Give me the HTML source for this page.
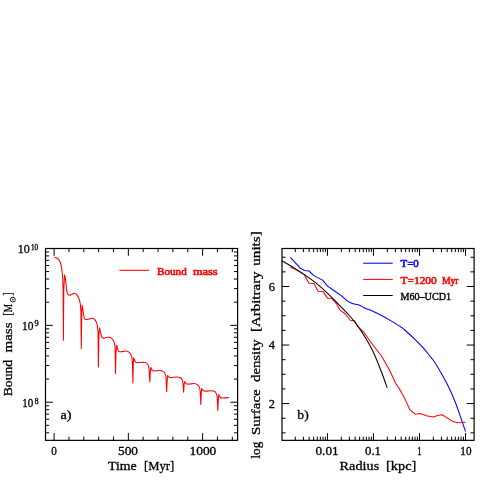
<!DOCTYPE html>
<html><head><meta charset="utf-8"><title>plot</title>
<style>
html,body{margin:0;padding:0;background:#fff;}
body{width:485px;height:485px;overflow:hidden;}
svg{display:block;font-family:"Liberation Serif",serif;will-change:transform;transform:translateZ(0);}
</style></head><body>
<svg width="485" height="485" viewBox="0 0 485 485">
<rect width="485" height="485" fill="#fff"/>
<line x1="54.1" y1="440.35" x2="54.1" y2="433.05" stroke="#000" stroke-width="1.0"/>
<line x1="54.1" y1="248.5" x2="54.1" y2="255.8" stroke="#000" stroke-width="1.0"/>
<line x1="68.95" y1="440.35" x2="68.95" y2="436.7" stroke="#000" stroke-width="1.0"/>
<line x1="68.95" y1="248.5" x2="68.95" y2="252.15" stroke="#000" stroke-width="1.0"/>
<line x1="83.8" y1="440.35" x2="83.8" y2="436.7" stroke="#000" stroke-width="1.0"/>
<line x1="83.8" y1="248.5" x2="83.8" y2="252.15" stroke="#000" stroke-width="1.0"/>
<line x1="98.65" y1="440.35" x2="98.65" y2="436.7" stroke="#000" stroke-width="1.0"/>
<line x1="98.65" y1="248.5" x2="98.65" y2="252.15" stroke="#000" stroke-width="1.0"/>
<line x1="113.5" y1="440.35" x2="113.5" y2="436.7" stroke="#000" stroke-width="1.0"/>
<line x1="113.5" y1="248.5" x2="113.5" y2="252.15" stroke="#000" stroke-width="1.0"/>
<line x1="128.35" y1="440.35" x2="128.35" y2="433.05" stroke="#000" stroke-width="1.0"/>
<line x1="128.35" y1="248.5" x2="128.35" y2="255.8" stroke="#000" stroke-width="1.0"/>
<line x1="143.2" y1="440.35" x2="143.2" y2="436.7" stroke="#000" stroke-width="1.0"/>
<line x1="143.2" y1="248.5" x2="143.2" y2="252.15" stroke="#000" stroke-width="1.0"/>
<line x1="158.05" y1="440.35" x2="158.05" y2="436.7" stroke="#000" stroke-width="1.0"/>
<line x1="158.05" y1="248.5" x2="158.05" y2="252.15" stroke="#000" stroke-width="1.0"/>
<line x1="172.9" y1="440.35" x2="172.9" y2="436.7" stroke="#000" stroke-width="1.0"/>
<line x1="172.9" y1="248.5" x2="172.9" y2="252.15" stroke="#000" stroke-width="1.0"/>
<line x1="187.75" y1="440.35" x2="187.75" y2="436.7" stroke="#000" stroke-width="1.0"/>
<line x1="187.75" y1="248.5" x2="187.75" y2="252.15" stroke="#000" stroke-width="1.0"/>
<line x1="202.6" y1="440.35" x2="202.6" y2="433.05" stroke="#000" stroke-width="1.0"/>
<line x1="202.6" y1="248.5" x2="202.6" y2="255.8" stroke="#000" stroke-width="1.0"/>
<line x1="217.45" y1="440.35" x2="217.45" y2="436.7" stroke="#000" stroke-width="1.0"/>
<line x1="217.45" y1="248.5" x2="217.45" y2="252.15" stroke="#000" stroke-width="1.0"/>
<line x1="232.3" y1="440.35" x2="232.3" y2="436.7" stroke="#000" stroke-width="1.0"/>
<line x1="232.3" y1="248.5" x2="232.3" y2="252.15" stroke="#000" stroke-width="1.0"/>
<line x1="45.5" y1="432.8" x2="49.15" y2="432.8" stroke="#000" stroke-width="1.0"/>
<line x1="237.6" y1="432.8" x2="233.95" y2="432.8" stroke="#000" stroke-width="1.0"/>
<line x1="45.5" y1="425.35" x2="49.15" y2="425.35" stroke="#000" stroke-width="1.0"/>
<line x1="237.6" y1="425.35" x2="233.95" y2="425.35" stroke="#000" stroke-width="1.0"/>
<line x1="45.5" y1="419.27" x2="49.15" y2="419.27" stroke="#000" stroke-width="1.0"/>
<line x1="237.6" y1="419.27" x2="233.95" y2="419.27" stroke="#000" stroke-width="1.0"/>
<line x1="45.5" y1="414.12" x2="49.15" y2="414.12" stroke="#000" stroke-width="1.0"/>
<line x1="237.6" y1="414.12" x2="233.95" y2="414.12" stroke="#000" stroke-width="1.0"/>
<line x1="45.5" y1="409.66" x2="49.15" y2="409.66" stroke="#000" stroke-width="1.0"/>
<line x1="237.6" y1="409.66" x2="233.95" y2="409.66" stroke="#000" stroke-width="1.0"/>
<line x1="45.5" y1="405.73" x2="49.15" y2="405.73" stroke="#000" stroke-width="1.0"/>
<line x1="237.6" y1="405.73" x2="233.95" y2="405.73" stroke="#000" stroke-width="1.0"/>
<line x1="45.5" y1="402.21" x2="52.8" y2="402.21" stroke="#000" stroke-width="1.0"/>
<line x1="237.6" y1="402.21" x2="230.3" y2="402.21" stroke="#000" stroke-width="1.0"/>
<line x1="45.5" y1="379.07" x2="49.15" y2="379.07" stroke="#000" stroke-width="1.0"/>
<line x1="237.6" y1="379.07" x2="233.95" y2="379.07" stroke="#000" stroke-width="1.0"/>
<line x1="45.5" y1="365.53" x2="49.15" y2="365.53" stroke="#000" stroke-width="1.0"/>
<line x1="237.6" y1="365.53" x2="233.95" y2="365.53" stroke="#000" stroke-width="1.0"/>
<line x1="45.5" y1="355.92" x2="49.15" y2="355.92" stroke="#000" stroke-width="1.0"/>
<line x1="237.6" y1="355.92" x2="233.95" y2="355.92" stroke="#000" stroke-width="1.0"/>
<line x1="45.5" y1="348.47" x2="49.15" y2="348.47" stroke="#000" stroke-width="1.0"/>
<line x1="237.6" y1="348.47" x2="233.95" y2="348.47" stroke="#000" stroke-width="1.0"/>
<line x1="45.5" y1="342.39" x2="49.15" y2="342.39" stroke="#000" stroke-width="1.0"/>
<line x1="237.6" y1="342.39" x2="233.95" y2="342.39" stroke="#000" stroke-width="1.0"/>
<line x1="45.5" y1="337.24" x2="49.15" y2="337.24" stroke="#000" stroke-width="1.0"/>
<line x1="237.6" y1="337.24" x2="233.95" y2="337.24" stroke="#000" stroke-width="1.0"/>
<line x1="45.5" y1="332.78" x2="49.15" y2="332.78" stroke="#000" stroke-width="1.0"/>
<line x1="237.6" y1="332.78" x2="233.95" y2="332.78" stroke="#000" stroke-width="1.0"/>
<line x1="45.5" y1="328.85" x2="49.15" y2="328.85" stroke="#000" stroke-width="1.0"/>
<line x1="237.6" y1="328.85" x2="233.95" y2="328.85" stroke="#000" stroke-width="1.0"/>
<line x1="45.5" y1="325.33" x2="52.8" y2="325.33" stroke="#000" stroke-width="1.0"/>
<line x1="237.6" y1="325.33" x2="230.3" y2="325.33" stroke="#000" stroke-width="1.0"/>
<line x1="45.5" y1="302.19" x2="49.15" y2="302.19" stroke="#000" stroke-width="1.0"/>
<line x1="237.6" y1="302.19" x2="233.95" y2="302.19" stroke="#000" stroke-width="1.0"/>
<line x1="45.5" y1="288.65" x2="49.15" y2="288.65" stroke="#000" stroke-width="1.0"/>
<line x1="237.6" y1="288.65" x2="233.95" y2="288.65" stroke="#000" stroke-width="1.0"/>
<line x1="45.5" y1="279.04" x2="49.15" y2="279.04" stroke="#000" stroke-width="1.0"/>
<line x1="237.6" y1="279.04" x2="233.95" y2="279.04" stroke="#000" stroke-width="1.0"/>
<line x1="45.5" y1="271.59" x2="49.15" y2="271.59" stroke="#000" stroke-width="1.0"/>
<line x1="237.6" y1="271.59" x2="233.95" y2="271.59" stroke="#000" stroke-width="1.0"/>
<line x1="45.5" y1="265.51" x2="49.15" y2="265.51" stroke="#000" stroke-width="1.0"/>
<line x1="237.6" y1="265.51" x2="233.95" y2="265.51" stroke="#000" stroke-width="1.0"/>
<line x1="45.5" y1="260.36" x2="49.15" y2="260.36" stroke="#000" stroke-width="1.0"/>
<line x1="237.6" y1="260.36" x2="233.95" y2="260.36" stroke="#000" stroke-width="1.0"/>
<line x1="45.5" y1="255.9" x2="49.15" y2="255.9" stroke="#000" stroke-width="1.0"/>
<line x1="237.6" y1="255.9" x2="233.95" y2="255.9" stroke="#000" stroke-width="1.0"/>
<line x1="45.5" y1="251.97" x2="49.15" y2="251.97" stroke="#000" stroke-width="1.0"/>
<line x1="237.6" y1="251.97" x2="233.95" y2="251.97" stroke="#000" stroke-width="1.0"/>
<line x1="295.29" y1="440.35" x2="295.29" y2="436.7" stroke="#000" stroke-width="1.0"/>
<line x1="295.29" y1="248.5" x2="295.29" y2="252.15" stroke="#000" stroke-width="1.0"/>
<line x1="303.4" y1="440.35" x2="303.4" y2="436.7" stroke="#000" stroke-width="1.0"/>
<line x1="303.4" y1="248.5" x2="303.4" y2="252.15" stroke="#000" stroke-width="1.0"/>
<line x1="309.15" y1="440.35" x2="309.15" y2="436.7" stroke="#000" stroke-width="1.0"/>
<line x1="309.15" y1="248.5" x2="309.15" y2="252.15" stroke="#000" stroke-width="1.0"/>
<line x1="313.61" y1="440.35" x2="313.61" y2="436.7" stroke="#000" stroke-width="1.0"/>
<line x1="313.61" y1="248.5" x2="313.61" y2="252.15" stroke="#000" stroke-width="1.0"/>
<line x1="317.25" y1="440.35" x2="317.25" y2="436.7" stroke="#000" stroke-width="1.0"/>
<line x1="317.25" y1="248.5" x2="317.25" y2="252.15" stroke="#000" stroke-width="1.0"/>
<line x1="320.33" y1="440.35" x2="320.33" y2="436.7" stroke="#000" stroke-width="1.0"/>
<line x1="320.33" y1="248.5" x2="320.33" y2="252.15" stroke="#000" stroke-width="1.0"/>
<line x1="323" y1="440.35" x2="323" y2="436.7" stroke="#000" stroke-width="1.0"/>
<line x1="323" y1="248.5" x2="323" y2="252.15" stroke="#000" stroke-width="1.0"/>
<line x1="325.35" y1="440.35" x2="325.35" y2="436.7" stroke="#000" stroke-width="1.0"/>
<line x1="325.35" y1="248.5" x2="325.35" y2="252.15" stroke="#000" stroke-width="1.0"/>
<line x1="327.46" y1="440.35" x2="327.46" y2="433.05" stroke="#000" stroke-width="1.0"/>
<line x1="327.46" y1="248.5" x2="327.46" y2="255.8" stroke="#000" stroke-width="1.0"/>
<line x1="341.31" y1="440.35" x2="341.31" y2="436.7" stroke="#000" stroke-width="1.0"/>
<line x1="341.31" y1="248.5" x2="341.31" y2="252.15" stroke="#000" stroke-width="1.0"/>
<line x1="349.42" y1="440.35" x2="349.42" y2="436.7" stroke="#000" stroke-width="1.0"/>
<line x1="349.42" y1="248.5" x2="349.42" y2="252.15" stroke="#000" stroke-width="1.0"/>
<line x1="355.17" y1="440.35" x2="355.17" y2="436.7" stroke="#000" stroke-width="1.0"/>
<line x1="355.17" y1="248.5" x2="355.17" y2="252.15" stroke="#000" stroke-width="1.0"/>
<line x1="359.63" y1="440.35" x2="359.63" y2="436.7" stroke="#000" stroke-width="1.0"/>
<line x1="359.63" y1="248.5" x2="359.63" y2="252.15" stroke="#000" stroke-width="1.0"/>
<line x1="363.27" y1="440.35" x2="363.27" y2="436.7" stroke="#000" stroke-width="1.0"/>
<line x1="363.27" y1="248.5" x2="363.27" y2="252.15" stroke="#000" stroke-width="1.0"/>
<line x1="366.35" y1="440.35" x2="366.35" y2="436.7" stroke="#000" stroke-width="1.0"/>
<line x1="366.35" y1="248.5" x2="366.35" y2="252.15" stroke="#000" stroke-width="1.0"/>
<line x1="369.02" y1="440.35" x2="369.02" y2="436.7" stroke="#000" stroke-width="1.0"/>
<line x1="369.02" y1="248.5" x2="369.02" y2="252.15" stroke="#000" stroke-width="1.0"/>
<line x1="371.37" y1="440.35" x2="371.37" y2="436.7" stroke="#000" stroke-width="1.0"/>
<line x1="371.37" y1="248.5" x2="371.37" y2="252.15" stroke="#000" stroke-width="1.0"/>
<line x1="373.48" y1="440.35" x2="373.48" y2="433.05" stroke="#000" stroke-width="1.0"/>
<line x1="373.48" y1="248.5" x2="373.48" y2="255.8" stroke="#000" stroke-width="1.0"/>
<line x1="387.33" y1="440.35" x2="387.33" y2="436.7" stroke="#000" stroke-width="1.0"/>
<line x1="387.33" y1="248.5" x2="387.33" y2="252.15" stroke="#000" stroke-width="1.0"/>
<line x1="395.44" y1="440.35" x2="395.44" y2="436.7" stroke="#000" stroke-width="1.0"/>
<line x1="395.44" y1="248.5" x2="395.44" y2="252.15" stroke="#000" stroke-width="1.0"/>
<line x1="401.19" y1="440.35" x2="401.19" y2="436.7" stroke="#000" stroke-width="1.0"/>
<line x1="401.19" y1="248.5" x2="401.19" y2="252.15" stroke="#000" stroke-width="1.0"/>
<line x1="405.65" y1="440.35" x2="405.65" y2="436.7" stroke="#000" stroke-width="1.0"/>
<line x1="405.65" y1="248.5" x2="405.65" y2="252.15" stroke="#000" stroke-width="1.0"/>
<line x1="409.29" y1="440.35" x2="409.29" y2="436.7" stroke="#000" stroke-width="1.0"/>
<line x1="409.29" y1="248.5" x2="409.29" y2="252.15" stroke="#000" stroke-width="1.0"/>
<line x1="412.37" y1="440.35" x2="412.37" y2="436.7" stroke="#000" stroke-width="1.0"/>
<line x1="412.37" y1="248.5" x2="412.37" y2="252.15" stroke="#000" stroke-width="1.0"/>
<line x1="415.04" y1="440.35" x2="415.04" y2="436.7" stroke="#000" stroke-width="1.0"/>
<line x1="415.04" y1="248.5" x2="415.04" y2="252.15" stroke="#000" stroke-width="1.0"/>
<line x1="417.39" y1="440.35" x2="417.39" y2="436.7" stroke="#000" stroke-width="1.0"/>
<line x1="417.39" y1="248.5" x2="417.39" y2="252.15" stroke="#000" stroke-width="1.0"/>
<line x1="419.5" y1="440.35" x2="419.5" y2="433.05" stroke="#000" stroke-width="1.0"/>
<line x1="419.5" y1="248.5" x2="419.5" y2="255.8" stroke="#000" stroke-width="1.0"/>
<line x1="433.35" y1="440.35" x2="433.35" y2="436.7" stroke="#000" stroke-width="1.0"/>
<line x1="433.35" y1="248.5" x2="433.35" y2="252.15" stroke="#000" stroke-width="1.0"/>
<line x1="441.46" y1="440.35" x2="441.46" y2="436.7" stroke="#000" stroke-width="1.0"/>
<line x1="441.46" y1="248.5" x2="441.46" y2="252.15" stroke="#000" stroke-width="1.0"/>
<line x1="447.21" y1="440.35" x2="447.21" y2="436.7" stroke="#000" stroke-width="1.0"/>
<line x1="447.21" y1="248.5" x2="447.21" y2="252.15" stroke="#000" stroke-width="1.0"/>
<line x1="451.67" y1="440.35" x2="451.67" y2="436.7" stroke="#000" stroke-width="1.0"/>
<line x1="451.67" y1="248.5" x2="451.67" y2="252.15" stroke="#000" stroke-width="1.0"/>
<line x1="455.31" y1="440.35" x2="455.31" y2="436.7" stroke="#000" stroke-width="1.0"/>
<line x1="455.31" y1="248.5" x2="455.31" y2="252.15" stroke="#000" stroke-width="1.0"/>
<line x1="458.39" y1="440.35" x2="458.39" y2="436.7" stroke="#000" stroke-width="1.0"/>
<line x1="458.39" y1="248.5" x2="458.39" y2="252.15" stroke="#000" stroke-width="1.0"/>
<line x1="461.06" y1="440.35" x2="461.06" y2="436.7" stroke="#000" stroke-width="1.0"/>
<line x1="461.06" y1="248.5" x2="461.06" y2="252.15" stroke="#000" stroke-width="1.0"/>
<line x1="463.41" y1="440.35" x2="463.41" y2="436.7" stroke="#000" stroke-width="1.0"/>
<line x1="463.41" y1="248.5" x2="463.41" y2="252.15" stroke="#000" stroke-width="1.0"/>
<line x1="465.52" y1="440.35" x2="465.52" y2="433.05" stroke="#000" stroke-width="1.0"/>
<line x1="465.52" y1="248.5" x2="465.52" y2="255.8" stroke="#000" stroke-width="1.0"/>
<line x1="282" y1="432.85" x2="285.65" y2="432.85" stroke="#000" stroke-width="1.0"/>
<line x1="474.1" y1="432.85" x2="470.45" y2="432.85" stroke="#000" stroke-width="1.0"/>
<line x1="282" y1="418.22" x2="285.65" y2="418.22" stroke="#000" stroke-width="1.0"/>
<line x1="474.1" y1="418.22" x2="470.45" y2="418.22" stroke="#000" stroke-width="1.0"/>
<line x1="282" y1="403.58" x2="289.3" y2="403.58" stroke="#000" stroke-width="1.0"/>
<line x1="474.1" y1="403.58" x2="466.8" y2="403.58" stroke="#000" stroke-width="1.0"/>
<line x1="282" y1="388.94" x2="285.65" y2="388.94" stroke="#000" stroke-width="1.0"/>
<line x1="474.1" y1="388.94" x2="470.45" y2="388.94" stroke="#000" stroke-width="1.0"/>
<line x1="282" y1="374.31" x2="285.65" y2="374.31" stroke="#000" stroke-width="1.0"/>
<line x1="474.1" y1="374.31" x2="470.45" y2="374.31" stroke="#000" stroke-width="1.0"/>
<line x1="282" y1="359.68" x2="285.65" y2="359.68" stroke="#000" stroke-width="1.0"/>
<line x1="474.1" y1="359.68" x2="470.45" y2="359.68" stroke="#000" stroke-width="1.0"/>
<line x1="282" y1="345.04" x2="289.3" y2="345.04" stroke="#000" stroke-width="1.0"/>
<line x1="474.1" y1="345.04" x2="466.8" y2="345.04" stroke="#000" stroke-width="1.0"/>
<line x1="282" y1="330.4" x2="285.65" y2="330.4" stroke="#000" stroke-width="1.0"/>
<line x1="474.1" y1="330.4" x2="470.45" y2="330.4" stroke="#000" stroke-width="1.0"/>
<line x1="282" y1="315.77" x2="285.65" y2="315.77" stroke="#000" stroke-width="1.0"/>
<line x1="474.1" y1="315.77" x2="470.45" y2="315.77" stroke="#000" stroke-width="1.0"/>
<line x1="282" y1="301.13" x2="285.65" y2="301.13" stroke="#000" stroke-width="1.0"/>
<line x1="474.1" y1="301.13" x2="470.45" y2="301.13" stroke="#000" stroke-width="1.0"/>
<line x1="282" y1="286.5" x2="289.3" y2="286.5" stroke="#000" stroke-width="1.0"/>
<line x1="474.1" y1="286.5" x2="466.8" y2="286.5" stroke="#000" stroke-width="1.0"/>
<line x1="282" y1="271.87" x2="285.65" y2="271.87" stroke="#000" stroke-width="1.0"/>
<line x1="474.1" y1="271.87" x2="470.45" y2="271.87" stroke="#000" stroke-width="1.0"/>
<line x1="282" y1="257.23" x2="285.65" y2="257.23" stroke="#000" stroke-width="1.0"/>
<line x1="474.1" y1="257.23" x2="470.45" y2="257.23" stroke="#000" stroke-width="1.0"/>
<rect x="45.5" y="248.5" width="192.1" height="191.85" fill="none" stroke="#000" stroke-width="1.2"/>
<rect x="282" y="248.5" width="192.1" height="191.85" fill="none" stroke="#000" stroke-width="1.2"/>
<path d="M54.5 257.3C54.97 257.47 56.48 257.75 57.3 258.3C58.12 258.85 58.8 259.57 59.4 260.6C60 261.63 60.47 262.77 60.9 264.5C61.33 266.23 61.7 268.67 62 271C62.3 273.33 62.52 275.5 62.7 278.5C62.88 281.5 63.03 287.25 63.1 289L63.4 340.3L63.8 290L64.5 275C64.67 275.77 65.15 277.15 65.5 279.6C65.85 282.05 66.22 287.3 66.6 289.7C66.98 292.1 67.37 293.08 67.8 294C68.23 294.92 68.55 295.13 69.2 295.2C69.85 295.27 70.8 294.72 71.7 294.4C72.6 294.08 73.77 293.27 74.6 293.3C75.43 293.33 75.98 293.73 76.7 294.6C77.42 295.47 78.3 296.93 78.9 298.5C79.5 300.07 79.97 301.75 80.3 304C80.63 306.25 80.8 310.67 80.9 312L81.3 348.5L81.7 313L82.1 305.2C82.27 306.17 82.73 308.83 83.1 311C83.47 313.17 83.82 316.77 84.3 318.2C84.78 319.63 85.12 319.48 86 319.6C86.88 319.72 88.47 319.13 89.6 318.9C90.73 318.67 91.83 317.95 92.8 318.2C93.77 318.45 94.68 319.32 95.4 320.4C96.12 321.48 96.67 322.9 97.1 324.7C97.53 326.5 97.85 330.12 98 331.2L98.4 366.9L98.9 335L99.6 327.8C99.8 328.8 100.35 332.13 100.8 333.8C101.25 335.47 101.6 337.12 102.3 337.8C103 338.48 103.88 338.03 105 337.9C106.12 337.77 107.87 336.88 109 337C110.13 337.12 110.97 337.8 111.8 338.6C112.63 339.4 113.45 340.32 114 341.8C114.55 343.28 114.92 346.55 115.1 347.5L115.5 373.4L116 352L116.7 345.1C116.88 345.85 117.37 348.5 117.8 349.6C118.23 350.7 118.4 351.38 119.3 351.7C120.2 352.02 121.95 351.62 123.2 351.5C124.45 351.38 125.72 350.77 126.8 351C127.88 351.23 128.9 352.05 129.7 352.9C130.5 353.75 131.15 354.58 131.6 356.1C132.05 357.62 132.27 361.02 132.4 362L132.9 383.1L133.3 364L133.7 357.8C133.92 358.35 134.47 360.28 135 361.1C135.53 361.92 135.87 362.48 136.9 362.7C137.93 362.92 139.8 362.43 141.2 362.4C142.6 362.37 144.23 362.2 145.3 362.5C146.37 362.8 146.98 363.38 147.6 364.2C148.22 365.02 148.77 366.87 149 367.4L149.85 382L150.4 371L150.85 367.3C151.09 367.82 151.73 369.78 152.3 370.4C152.88 371.02 152.98 370.98 154.3 371C155.62 371.02 158.73 370.43 160.2 370.5C161.67 370.57 162.3 370.9 163.1 371.4C163.9 371.9 164.52 372.5 165 373.5C165.48 374.5 165.83 376.75 166 377.4L166.7 391.6L167.2 380L167.7 375.3C167.9 375.6 168.35 376.75 168.9 377.1C169.45 377.45 169.57 377.42 171 377.4C172.43 377.38 175.93 376.93 177.5 377C179.07 377.07 179.63 377.37 180.4 377.8C181.17 378.23 181.67 378.7 182.1 379.6C182.53 380.5 182.85 382.6 183 383.2L183.6 392.2L184.1 385L184.65 381.5C184.93 381.88 185.56 383.37 186.3 383.8C187.04 384.23 187.82 384.13 189.1 384.1C190.38 384.07 192.6 383.48 194 383.6C195.4 383.72 196.62 384.22 197.5 384.8C198.38 385.38 198.85 386.07 199.3 387.1C199.75 388.13 200.05 390.35 200.2 391L200.8 404.4L201.3 393L201.75 388.6C202.04 388.95 202.84 390.28 203.5 390.7C204.16 391.12 204.45 391.1 205.7 391.1C206.95 391.1 209.52 390.67 211 390.7C212.48 390.73 213.7 390.77 214.6 391.3C215.5 391.83 215.97 392.87 216.4 393.9C216.83 394.93 217.07 396.9 217.2 397.5L217.8 410.5L218.3 400L218.7 394.6C218.98 395.08 219.63 396.93 220.4 397.5C221.17 398.07 221.9 398 223.3 398C224.7 398 227.88 397.58 228.8 397.5" fill="none" stroke="#ff0000" stroke-width="1.05" stroke-linejoin="round" stroke-linecap="butt"/>
<path d="M290.4 257.3L294.4 261.6L300.2 268.1L304.5 270.5L308.9 271L313.9 275.6L322.6 280.1L327.6 286.1L333.5 290.2L342.2 296.4L346.4 300.3L349 301.9C349.68 302.2 351.45 303.2 353.1 303.7C354.75 304.2 356.98 304.18 358.9 304.9C360.82 305.62 362.2 306.92 364.6 308C367 309.08 370.4 310.12 373.3 311.4C376.2 312.68 379.12 314.17 382 315.7C384.88 317.23 387.6 318.82 390.6 320.6C393.6 322.38 397.65 324.83 400 326.4C402.35 327.97 402.13 327.77 404.7 330C407.27 332.23 412.05 336.53 415.4 339.8C418.75 343.07 422.37 346.85 424.8 349.6C427.23 352.35 428.47 354.35 430 356.3C431.53 358.25 432.1 358.45 434 361.3C435.9 364.15 438.93 369.07 441.4 373.4C443.87 377.73 446.48 382.5 448.8 387.3C451.12 392.1 453.28 397.1 455.3 402.2C457.32 407.3 459.2 413.02 460.9 417.9C462.6 422.78 464.73 429.23 465.5 431.5" fill="none" stroke="#0000ff" stroke-width="1.05" stroke-linejoin="round"/>
<polyline points="290.4,267.4 294.4,268.8 304.5,274.9 308.9,283.2 313.9,283.5 318.2,291.2 323,291.6 327.6,298.1 332,298.7 336.5,303.8 340.3,310.4 345.5,314 350.2,320.3 354.5,320.7 358.1,326.8 363.6,331.8 369,339.8 373.5,345.7 381.5,356 388.9,369 396.1,384.1 399.6,389.2 405.3,399.6 409.8,409.6 415,414.2 420.1,413.5 426.5,415.7 433,417 438.6,415.2 442.3,414.8 447,417.9 452.5,421.3 457.2,422.8 461.8,422.6 465.5,422.2" fill="none" stroke="#ff0000" stroke-width="1.05" stroke-linejoin="round"/>
<path d="M281.7 260.6C283.82 261.85 290.6 265.77 294.4 268.1C298.2 270.43 300.88 272.08 304.5 274.6C308.12 277.12 312.25 280.08 316.1 283.2C319.95 286.32 323.97 289.9 327.6 293.3C331.23 296.7 334.58 300.23 337.9 303.6C341.22 306.97 344.73 310.48 347.5 313.5C350.27 316.52 352.15 318.68 354.5 321.7C356.85 324.72 359.47 328.38 361.6 331.6C363.73 334.82 365.43 337.75 367.3 341C369.17 344.25 371.02 347.4 372.8 351.1C374.58 354.8 376.28 359.02 378 363.2C379.72 367.38 381.57 372.08 383.1 376.2C384.63 380.32 386.52 385.95 387.2 387.9" fill="none" stroke="#000" stroke-width="1.05" stroke-linejoin="round"/>
<line x1="119.4" y1="270.3" x2="148.9" y2="270.3" stroke="#ff0000" stroke-width="1.05"/>
<line x1="363.2" y1="263.2" x2="392.7" y2="263.2" stroke="#0000ff" stroke-width="1.05"/>
<line x1="363.2" y1="279.4" x2="392.7" y2="279.4" stroke="#ff0000" stroke-width="1.05"/>
<line x1="363.2" y1="295.5" x2="392.7" y2="295.5" stroke="#000" stroke-width="1.05"/>
<text x="51.3" y="455" font-size="12" fill="#000" stroke="#000" stroke-width="0.3" textLength="5.6" lengthAdjust="spacingAndGlyphs">0</text>
<text x="118" y="455" font-size="12" fill="#000" stroke="#000" stroke-width="0.3" textLength="20" lengthAdjust="spacingAndGlyphs">500</text>
<text x="189.5" y="455" font-size="12" fill="#000" stroke="#000" stroke-width="0.3" textLength="26.8" lengthAdjust="spacingAndGlyphs">1000</text>
<text x="107.9" y="470.2" font-size="13.5" fill="#000" stroke="#000" stroke-width="0.3" textLength="28.8" lengthAdjust="spacingAndGlyphs">Time</text>
<text x="144" y="470.2" font-size="13.5" fill="#000" stroke="#000" stroke-width="0.3" textLength="30.2" lengthAdjust="spacingAndGlyphs">[Myr]</text>
<text x="17.7" y="253.2" font-size="12" fill="#000" stroke="#000" stroke-width="0.3" textLength="12" lengthAdjust="spacingAndGlyphs">10</text>
<text x="30.9" y="249.8" font-size="7.5" fill="#000" stroke="#000" stroke-width="0.3" textLength="7.2" lengthAdjust="spacingAndGlyphs">10</text>
<text x="22" y="329.6" font-size="12" fill="#000" stroke="#000" stroke-width="0.3" textLength="11.4" lengthAdjust="spacingAndGlyphs">10</text>
<text x="34.6" y="326.4" font-size="7.5" fill="#000" stroke="#000" stroke-width="0.3" textLength="4.2" lengthAdjust="spacingAndGlyphs">9</text>
<text x="22.2" y="406.8" font-size="12" fill="#000" stroke="#000" stroke-width="0.3" textLength="11" lengthAdjust="spacingAndGlyphs">10</text>
<text x="34.7" y="403.6" font-size="7.5" fill="#000" stroke="#000" stroke-width="0.3" textLength="3.8" lengthAdjust="spacingAndGlyphs">8</text>
<text x="315.5" y="455" font-size="12" fill="#000" stroke="#000" stroke-width="0.3" textLength="23.1" lengthAdjust="spacingAndGlyphs">0.01</text>
<text x="365" y="455" font-size="12" fill="#000" stroke="#000" stroke-width="0.3" textLength="16" lengthAdjust="spacingAndGlyphs">0.1</text>
<text x="417.2" y="455" font-size="12" fill="#000" stroke="#000" stroke-width="0.3" textLength="4.4" lengthAdjust="spacingAndGlyphs">1</text>
<text x="460.3" y="455" font-size="12" fill="#000" stroke="#000" stroke-width="0.3" textLength="11.2" lengthAdjust="spacingAndGlyphs">10</text>
<text x="339.6" y="470.2" font-size="13.5" fill="#000" stroke="#000" stroke-width="0.3" textLength="39.6" lengthAdjust="spacingAndGlyphs">Radius</text>
<text x="386" y="470.2" font-size="13.5" fill="#000" stroke="#000" stroke-width="0.3" textLength="30.3" lengthAdjust="spacingAndGlyphs">[kpc]</text>
<text x="268.7" y="290.8" font-size="12" fill="#000" stroke="#000" stroke-width="0.3" textLength="6.2" lengthAdjust="spacingAndGlyphs">6</text>
<text x="268.7" y="349.4" font-size="12" fill="#000" stroke="#000" stroke-width="0.3" textLength="6.2" lengthAdjust="spacingAndGlyphs">4</text>
<text x="268.7" y="407.7" font-size="12" fill="#000" stroke="#000" stroke-width="0.3" textLength="6.2" lengthAdjust="spacingAndGlyphs">2</text>
<text x="157" y="274.8" font-size="11" fill="#ff0000" stroke="#ff0000" stroke-width="0.6" textLength="29.7" lengthAdjust="spacingAndGlyphs">Bound</text>
<text x="192.9" y="274.8" font-size="11" fill="#ff0000" stroke="#ff0000" stroke-width="0.6" textLength="24.8" lengthAdjust="spacingAndGlyphs">mass</text>
<text x="400.5" y="267.3" font-size="11" fill="#0000ff" stroke="#0000ff" stroke-width="0.6" textLength="18.3" lengthAdjust="spacingAndGlyphs">T=0</text>
<text x="400.5" y="283.9" font-size="11" fill="#ff0000" stroke="#ff0000" stroke-width="0.6" textLength="36.3" lengthAdjust="spacingAndGlyphs">T=1200</text>
<text x="441.9" y="283.9" font-size="11" fill="#ff0000" stroke="#ff0000" stroke-width="0.6" textLength="16.6" lengthAdjust="spacingAndGlyphs">Myr</text>
<text x="400.5" y="299.7" font-size="11" fill="#000" stroke="#000" stroke-width="0.4" textLength="50.5" lengthAdjust="spacingAndGlyphs">M60&#x2013;UCD1</text>
<text x="60.5" y="418.8" font-size="13" fill="#000" stroke="#000" stroke-width="0.3" textLength="11.1" lengthAdjust="spacingAndGlyphs">a)</text>
<text x="297.3" y="418.5" font-size="13" fill="#000" stroke="#000" stroke-width="0.3" textLength="11.4" lengthAdjust="spacingAndGlyphs">b)</text>
<text transform="translate(12.1 396.3) rotate(-90)" x="0" y="0" font-size="13.5" fill="#000" stroke="#000" stroke-width="0.3" textLength="36.5" lengthAdjust="spacingAndGlyphs">Bound</text>
<text transform="translate(12.1 352.4) rotate(-90)" x="0" y="0" font-size="13.5" fill="#000" stroke="#000" stroke-width="0.3" textLength="29.9" lengthAdjust="spacingAndGlyphs">mass</text>
<text transform="translate(12.1 315.4) rotate(-90)" x="0" y="0" font-size="13.5" fill="#000" stroke="#000" stroke-width="0.3" textLength="11.4" lengthAdjust="spacingAndGlyphs">[M</text>
<circle cx="12.8" cy="299.6" r="2.45" fill="none" stroke="#000" stroke-width="0.95"/><circle cx="12.8" cy="299.6" r="0.75" fill="#000"/>
<text transform="translate(12.1 295.6) rotate(-90)" x="0" y="0" font-size="13.5" fill="#000" stroke="#000" stroke-width="0.3" textLength="3" lengthAdjust="spacingAndGlyphs">]</text>
<text transform="translate(259.8 458.6) rotate(-90)" x="0" y="0" font-size="13.5" fill="#000" stroke="#000" stroke-width="0.3" textLength="16.9" lengthAdjust="spacingAndGlyphs">log</text>
<text transform="translate(259.8 435) rotate(-90)" x="0" y="0" font-size="13.5" fill="#000" stroke="#000" stroke-width="0.3" textLength="45.7" lengthAdjust="spacingAndGlyphs">Surface</text>
<text transform="translate(259.8 382) rotate(-90)" x="0" y="0" font-size="13.5" fill="#000" stroke="#000" stroke-width="0.3" textLength="42.7" lengthAdjust="spacingAndGlyphs">density</text>
<text transform="translate(259.8 332) rotate(-90)" x="0" y="0" font-size="13.5" fill="#000" stroke="#000" stroke-width="0.3" textLength="60.6" lengthAdjust="spacingAndGlyphs">[Arbitrary</text>
<text transform="translate(259.8 265.8) rotate(-90)" x="0" y="0" font-size="13.5" fill="#000" stroke="#000" stroke-width="0.3" textLength="34.6" lengthAdjust="spacingAndGlyphs">units]</text>
</svg>
</body></html>
